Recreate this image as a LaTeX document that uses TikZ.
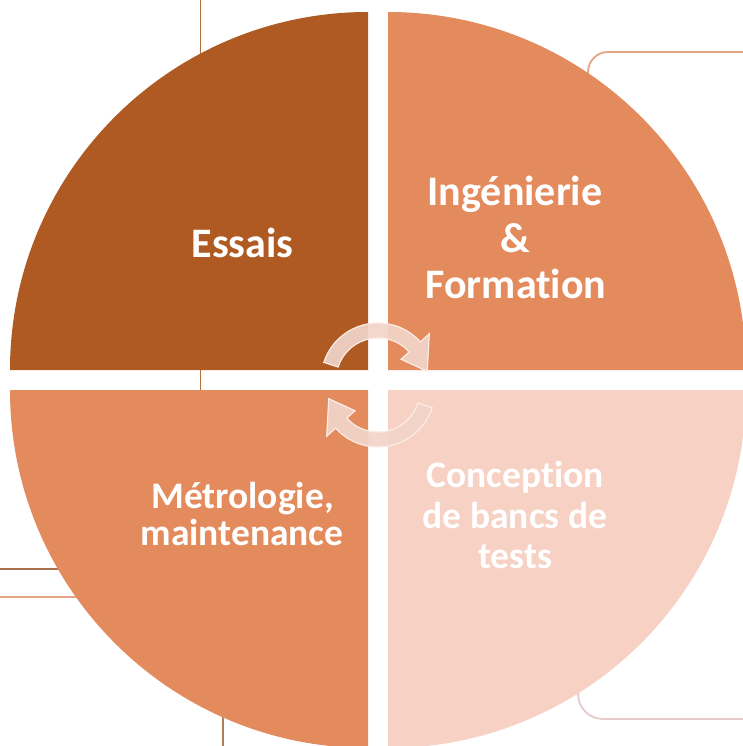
\documentclass[tikz,border=0pt]{standalone}
\usepackage{fontspec}
\setmainfont{Carlito}[Ligatures=NoCommon]
\definecolor{qbrown}{HTML}{AE5A22}
\definecolor{qorange}{HTML}{E48B5E}
\definecolor{qlight}{HTML}{F6D1C4}
\definecolor{lnbrown}{HTML}{B0703F}
\definecolor{lnsalmon}{HTML}{E6A586}
\definecolor{lnpink}{HTML}{E8CACA}
\definecolor{lnbrown2}{HTML}{A9714F}
\definecolor{arrowfill}{HTML}{F2D4C9}
\definecolor{arrowline}{HTML}{FBECE6}
\begin{document}
\begin{tikzpicture}[x=1pt,y=-1pt,
  bgline/.style={line width=1.8pt},
  quad/.style={draw=none},
  bigtxt/.style={text=white,font=\fontsize{42}{47}\selectfont\bfseries,anchor=base,inner sep=0pt},
  smalltxt/.style={text=white,font=\fontsize{37.5}{41}\selectfont\bfseries,anchor=base,inner sep=0pt},
  cyclearrow/.style={fill=arrowfill,fill opacity=0.92,draw=arrowline,line width=1.2pt}]
\useasboundingbox (0,0) rectangle (743,746);
\clip (0,0) rectangle (743,746);
\fill[white] (0,0) rectangle (743,746);
% background connector lines
\draw[bgline,lnbrown] (200.5,0) -- (200.5,400);
\draw[bgline,lnsalmon] (588,120) -- (588,72) arc[start angle=180,end angle=270,radius=20] -- (760,52);
\draw[bgline,lnpink] (578,650) -- (578,694) arc[start angle=180,end angle=90,radius=25] -- (760,719);
\draw[bgline,lnbrown2] (-5,569) -- (120,569);
\draw[bgline,lnsalmon] (-5,597) -- (120,597);
\draw[bgline,lnbrown2!80!lnsalmon] (223,650) -- (223,760);
% quadrants
\fill[quad,qbrown] (368,370) -- ++(-358,0) arc[start angle=180,end angle=270,radius=358] -- cycle;
\fill[quad,qorange] (388,370) -- ++(0,-358) arc[start angle=270,end angle=360,radius=358] -- cycle;
\fill[quad,qlight] (388,390) -- ++(358,0) arc[start angle=0,end angle=90,radius=358] -- cycle;
\fill[quad,qorange] (368,390) -- ++(0,358) arc[start angle=90,end angle=180,radius=358] -- cycle;
% cycle arrows
\begin{scope}[shift={(378,380)},yscale=-1]
  \path[cyclearrow] (162:57) arc[start angle=162,end angle=42,radius=57]
    -- (42:69) -- (10:50) -- (42:31) -- (42:42)
    arc[start angle=42,end angle=162,radius=42] -- cycle;
\end{scope}
\begin{scope}[shift={(378,390)},yscale=-1,rotate=180]
  \path[cyclearrow] (162:57) arc[start angle=162,end angle=42,radius=57]
    -- (42:69) -- (10:50) -- (42:31) -- (42:42)
    arc[start angle=42,end angle=162,radius=42] -- cycle;
\end{scope}
% labels
\node[bigtxt] (essais) at (242.5,257) {Essais};
\node[bigtxt] (ing1) at (515,205) {Ingénierie};
\node[bigtxt] (ing2) at (515,252) {\&};
\node[bigtxt] (ing3) at (516,298) {Formation};
\node[smalltxt] (met1) at (242.5,508) {Métrologie,};
\node[smalltxt] (met2) at (242,545) {maintenance};
\node[smalltxt] (con1) at (515,487) {Conception};
\node[smalltxt] (con2) at (515,528) {de bancs de};
\node[smalltxt] (con3) at (515,568) {tests};
\end{tikzpicture}
\end{document}
